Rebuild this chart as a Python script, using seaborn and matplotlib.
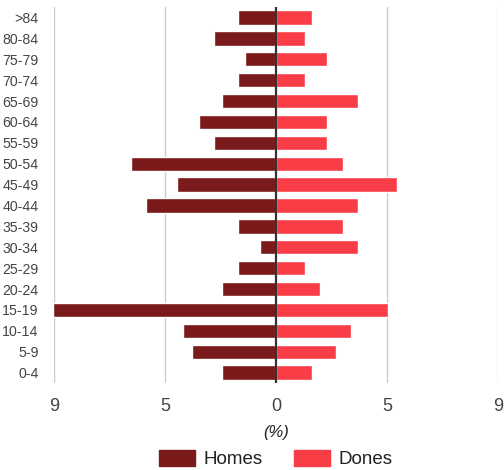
import pandas as pd
import matplotlib.pyplot as plt
import matplotlib.patches as mpatches
import seaborn as sns

# age groups, top to bottom as in the chart
ages = [">84", "80-84", "75-79", "70-74", "65-69", "60-64", "55-59", "50-54",
        "45-49", "40-44", "35-39", "30-34", "25-29", "20-24", "15-19",
        "10-14", "5-9", "0-4"]
homes = [1.54, 2.51, 1.27, 1.54, 2.17, 3.13, 2.51, 5.87, 4.01, 5.26, 1.54,
         0.66, 1.54, 2.17, 9.02, 3.75, 3.40, 2.17]
dones = [1.48, 1.18, 2.09, 1.18, 3.31, 2.09, 2.09, 2.70, 4.89, 3.31, 2.70,
         3.31, 1.18, 1.79, 4.55, 3.04, 2.43, 1.48]

x_ticks = [-9, -4.5, 0, 4.5, 9]
x_labels = ["9", "5", "0", "5", "9"]

homes_color = "#7b1a1a"
dones_color = "#f93d47"

sns.set_theme(style="white")
plt.rcParams["font.family"] = ["Liberation Sans", "DejaVu Sans"]

df = pd.DataFrame({"edat": ages, "homes": [-v for v in homes], "dones": dones})

fig = plt.figure(figsize=(5.04, 4.70), dpi=100)
ax = fig.add_axes([0.107, 0.185, 0.881, 0.80])

for x in x_ticks:
    if x != 0:
        ax.axvline(x, color="#cccccc", lw=1, zorder=0)

sns.barplot(data=df, x="homes", y="edat", order=ages, color=homes_color,
            orient="h", width=0.69, saturation=1, ax=ax, zorder=2)
sns.barplot(data=df, x="dones", y="edat", order=ages, color=dones_color,
            orient="h", width=0.69, saturation=1, ax=ax, zorder=2)
ax.axvline(0, color="#333333", lw=1.6, zorder=3)

ax.set_xlim(-9, 9)
ax.set_ylim(len(ages) - 0.5, -0.5)
ax.set_xticks(x_ticks)
ax.set_xticklabels(x_labels, fontsize=13, color="#444444")
ax.tick_params(axis="y", labelsize=10.2, labelcolor="#444444", length=0, pad=11)
ax.tick_params(axis="x", length=0, pad=11)
ax.set_ylabel("")
ax.set_xlabel("(%)", fontsize=12, style="italic", color="#222222", labelpad=7)
for s in ax.spines.values():
    s.set_visible(False)

handles = [mpatches.Patch(color=homes_color, label="Homes"),
           mpatches.Patch(color=dones_color, label="Dones")]
fig.legend(handles=handles, loc="center", bbox_to_anchor=(0.547, 0.023),
           ncol=2, frameon=False, fontsize=13.5, handlelength=1.95,
           handleheight=0.9, handletextpad=0.45, columnspacing=1.65,
           labelcolor="#222222")

fig.savefig("out.png", dpi=100)
